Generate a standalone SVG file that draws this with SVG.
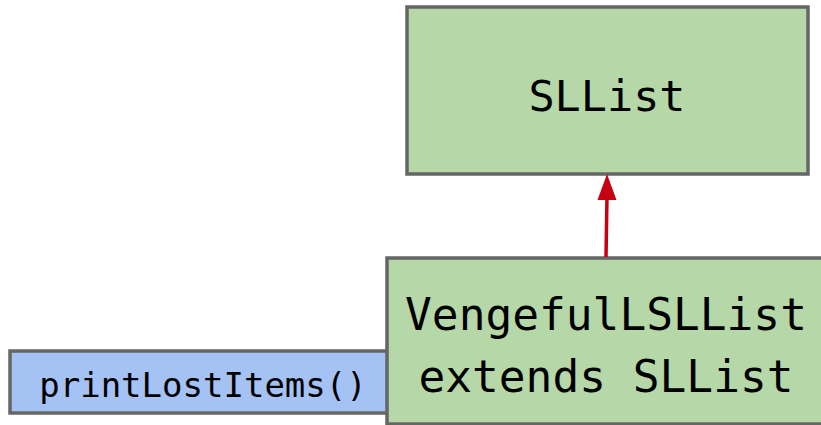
<svg xmlns="http://www.w3.org/2000/svg" width="821" height="425" viewBox="0 0 821 425">
<style>
.box{stroke:#666666;stroke-width:3.5}
.green{fill:#b6d7a8}
.blue{fill:#a4c2f4}
text{font-family:"DejaVu Sans Mono","Liberation Mono",monospace;fill:#000;text-anchor:middle}
</style>
<g id="node-printLostItems">
<rect class="box blue" x="10" y="351" width="380" height="62"/>
<text x="203" y="397" font-size="34">printLostItems()</text>
</g>
<g id="node-SLList">
<rect class="box green" x="407" y="7" width="401" height="167"/>
<text x="607" y="111" font-size="43.5">SLList</text>
</g>
<g id="node-Vengeful">
<rect class="box green" x="387" y="258" width="436" height="166"/>
<text x="606" y="330" font-size="44.5">VengefulLSLList</text>
<text x="606" y="392" font-size="44.5">extends SLList</text>
</g>
<g id="connectors">
<line x1="606" y1="257" x2="607" y2="196" stroke="#c50012" stroke-width="3.5"/>
<polygon points="607,174 597.5,200 616.5,200" fill="#c50012"/>
</g>
</svg>
